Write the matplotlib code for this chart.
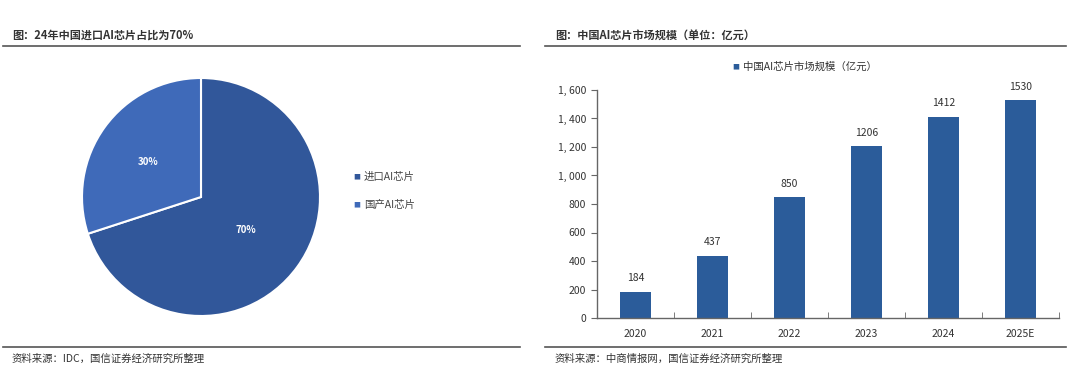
import matplotlib
matplotlib.use("Agg")
import matplotlib.pyplot as plt
from matplotlib.ticker import FuncFormatter
from matplotlib.lines import Line2D
import math

plt.rcParams['font.family'] = ['Noto Sans CJK SC', 'DejaVu Sans']

# Data
pie_labels = ['进口AI芯片', '国产AI芯片']
pie_values = [70, 30]
pie_colors = ['#31579A', '#3F6AB9']

years = ['2020', '2021', '2022', '2023', '2024', '2025E']
market = [184, 437, 850, 1206, 1412, 1530]
bar_color = '#2B5C9A'
legend_label = '中国AI芯片市场规模（亿元）'

W, H = 1080, 379
fig = plt.figure(figsize=(W / 100, H / 100), dpi=100)

def ax_px(x0, y0, x1, y1):
    return fig.add_axes([x0 / W, 1 - y1 / H, (x1 - x0) / W, (y1 - y0) / H])

txt = '#333333'
linec = '#555555'

# Titles, rules and sources
fig.text(12 / W, 1 - 35 / H, '图：24年中国进口AI芯片占比为70%', fontsize=8, fontweight='bold',
         color=txt, va='center', ha='left')
fig.text(555 / W, 1 - 35 / H, '图：中国AI芯片市场规模（单位：亿元）', fontsize=8, fontweight='bold',
         color=txt, va='center', ha='left')
for (x0, x1) in [(3, 520), (545, 1066)]:
    for y in (46, 347):
        fig.add_artist(Line2D([x0 / W, x1 / W], [1 - y / H, 1 - y / H], color=linec, lw=1.2))
fig.text(12 / W, 1 - 359 / H, '资料来源：IDC，国信证券经济研究所整理', fontsize=7.5,
         color=txt, va='center', ha='left')
fig.text(555 / W, 1 - 359 / H, '资料来源：中商情报网，国信证券经济研究所整理', fontsize=7.5,
         color=txt, va='center', ha='left')

# Pie
cx, cy, r = 201, 197, 119
axp = ax_px(cx - r, cy - r, cx + r, cy + r)
wedges, texts = axp.pie(pie_values, colors=pie_colors, startangle=90, counterclock=False,
                        radius=1, wedgeprops=dict(edgecolor='white', linewidth=1.5))
axp.set_xlim(-1, 1)
axp.set_ylim(-1, 1)
axp.set_aspect('auto')
axp.axis('off')
cum = 0
for v in pie_values:
    mid = 90 - (cum + v / 2) / sum(pie_values) * 360
    cum += v
    rr = 0.47 if v > 50 else 0.55
    dy = 0.0 if v > 50 else -0.03
    axp.text(rr * math.cos(math.radians(mid)), rr * math.sin(math.radians(mid)) + dy,
             f'{v}%', color='white', fontsize=7, fontweight='bold', ha='center', va='center')

# Pie legend
for i, (lab, col) in enumerate(zip(pie_labels, pie_colors)):
    y = 177 + i * 28
    fig.text(357 / W, 1 - y / H, '■', color=col, fontsize=5, ha='center', va='center')
    fig.text(364 / W, 1 - y / H, lab, color='#444444', fontsize=7.5, ha='left', va='center')

# Bar chart
axb = ax_px(597, 90, 1059, 318)
x = list(range(len(years)))
bars = axb.bar(x, market, width=0.39, color=bar_color, label=legend_label)
axb.set_xlim(-0.5, len(years) - 0.5)
axb.set_ylim(0, 1600)
axb.set_yticks(range(0, 1601, 200))
axb.yaxis.set_major_formatter(FuncFormatter(lambda v, p: f'{int(v):,}'.replace(',', ', ')))
axb.set_xticks(x)
axb.set_xticklabels(years)
axb.set_xticks([i + 0.5 for i in range(-1, len(years))], minor=True)
axb.tick_params(axis='x', which='major', length=0, pad=8, labelsize=7.5, labelcolor=txt)
axb.tick_params(axis='x', which='minor', length=4, direction='in', color='#666666')
axb.tick_params(axis='y', length=4, direction='out', labelsize=7.5, labelcolor=txt, color='#666666', pad=4)
for s in ('top', 'right'):
    axb.spines[s].set_visible(False)
for s in ('left', 'bottom'):
    axb.spines[s].set_color('#666666')
    axb.spines[s].set_linewidth(1)
for xi, v in zip(x, market):
    axb.annotate(str(v), (xi, v), xytext=(0, 6), textcoords='offset points',
                 ha='center', va='bottom', fontsize=7.5, color=txt)

# Bar legend
fig.text(736 / W, 1 - 67 / H, '■', color=bar_color, fontsize=5, ha='center', va='center')
fig.text(743 / W, 1 - 67 / H, legend_label, color='#333333', fontsize=7.5, ha='left', va='center')

fig.savefig('out.png', dpi=100, facecolor='white')
